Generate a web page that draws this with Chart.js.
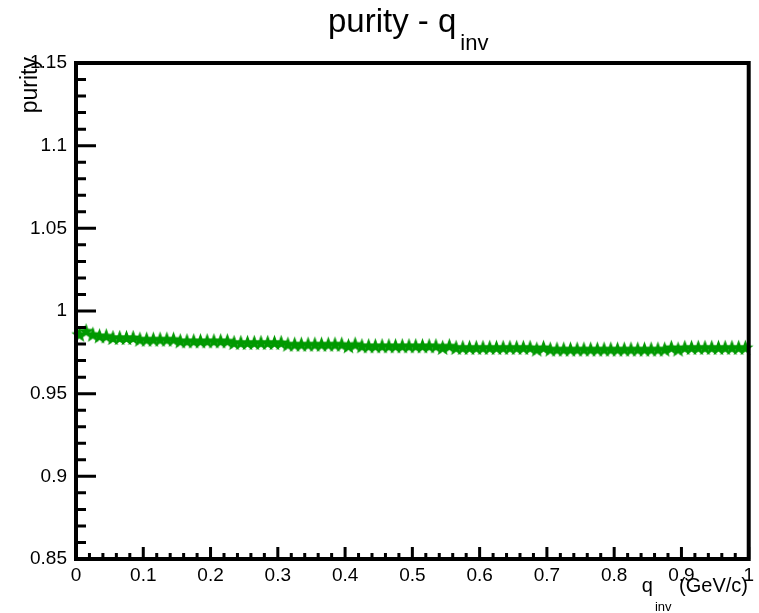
<!DOCTYPE html>
<html>
<head>
<meta charset="utf-8">
<script src="https://cdn.jsdelivr.net/npm/chart.js@4/dist/chart.umd.min.js"></script>
<style>
  html, body { margin: 0; padding: 0; background: #fff; }
</style>
</head>
<body>
<canvas id="chart" width="759" height="613"></canvas>
<script>
// bin centres of q_inv (GeV/c)
const qinv = [
  0.005, 0.015, 0.025, 0.035, 0.045, 0.055, 0.065, 0.075, 0.085, 0.095,
  0.105, 0.115, 0.125, 0.135, 0.145, 0.155, 0.165, 0.175, 0.185, 0.195,
  0.205, 0.215, 0.225, 0.235, 0.245, 0.255, 0.265, 0.275, 0.285, 0.295,
  0.305, 0.315, 0.325, 0.335, 0.345, 0.355, 0.365, 0.375, 0.385, 0.395,
  0.405, 0.415, 0.425, 0.435, 0.445, 0.455, 0.465, 0.475, 0.485, 0.495,
  0.505, 0.515, 0.525, 0.535, 0.545, 0.555, 0.565, 0.575, 0.585, 0.595,
  0.605, 0.615, 0.625, 0.635, 0.645, 0.655, 0.665, 0.675, 0.685, 0.695,
  0.705, 0.715, 0.725, 0.735, 0.745, 0.755, 0.765, 0.775, 0.785, 0.795,
  0.805, 0.815, 0.825, 0.835, 0.845, 0.855, 0.865, 0.875, 0.885, 0.895,
  0.905, 0.915, 0.925, 0.935, 0.945, 0.955, 0.965, 0.975, 0.985, 0.995
];

// purity per bin
const purity = [
  0.986, 0.988, 0.986, 0.985, 0.985, 0.984, 0.984, 0.984, 0.984, 0.983,
  0.983, 0.983, 0.983, 0.983, 0.983, 0.982, 0.982, 0.982, 0.982, 0.982,
  0.982, 0.982, 0.982, 0.981, 0.981, 0.981, 0.981, 0.981, 0.981, 0.981,
  0.981, 0.980, 0.980, 0.980, 0.980, 0.980, 0.980, 0.980, 0.980, 0.980,
  0.979, 0.980, 0.979, 0.979, 0.979, 0.979, 0.979, 0.979, 0.979, 0.979,
  0.979, 0.979, 0.979, 0.979, 0.978, 0.979, 0.978, 0.978, 0.978, 0.978,
  0.978, 0.978, 0.978, 0.978, 0.978, 0.978, 0.978, 0.978, 0.977, 0.978,
  0.977, 0.977, 0.977, 0.977, 0.977, 0.977, 0.977, 0.977, 0.977, 0.977,
  0.977, 0.977, 0.977, 0.977, 0.977, 0.977, 0.977, 0.977, 0.978, 0.977,
  0.978, 0.978, 0.978, 0.978, 0.978, 0.978, 0.978, 0.978, 0.978, 0.978
];

const xMajor = [0, 0.1, 0.2, 0.3, 0.4, 0.5, 0.6, 0.7, 0.8, 0.9, 1];
const yMajor = [0.85, 0.9, 0.95, 1, 1.05, 1.1, 1.15];

const FONT = '"Liberation Sans", Arial, Helvetica, sans-serif';
const GREEN = '#009900';

// filled five-point star, like ROOT marker 29
function makeStar(rOut, rIn, color) {
  const size = Math.ceil(rOut * 2) + 2;
  const c = document.createElement('canvas');
  c.width = size;
  c.height = size;
  const g = c.getContext('2d');
  g.translate(size / 2, size / 2 + 0.8);
  g.beginPath();
  for (let i = 0; i < 10; i++) {
    const r = i % 2 === 0 ? rOut : rIn;
    const a = -Math.PI / 2 + i * Math.PI / 5;
    g.lineTo(r * Math.cos(a), r * Math.sin(a));
  }
  g.closePath();
  g.fillStyle = color;
  g.fill();
  return c;
}

// frame, inside ticks, title and axis titles
const rootStyle = {
  id: 'rootStyle',
  afterDraw(chart) {
    const ctx = chart.ctx;
    const a = chart.chartArea;
    const xs = chart.scales.x, ys = chart.scales.y;
    ctx.save();
    ctx.strokeStyle = '#000';

    // ticks
    ctx.lineWidth = 3;
    ctx.beginPath();
    for (let k = 0; k <= 30; k++) {
      const y = ys.getPixelForValue(0.85 + k * 0.01);
      const len = k % 5 === 0 ? 20 : 10;
      ctx.moveTo(a.left, y);
      ctx.lineTo(a.left + len, y);
    }
    for (let k = 0; k <= 50; k++) {
      const x = xs.getPixelForValue(k * 0.02);
      const len = k % 5 === 0 ? 12 : 6;
      ctx.moveTo(x, a.bottom);
      ctx.lineTo(x, a.bottom - len);
    }
    ctx.stroke();

    // frame
    ctx.lineWidth = 4;
    ctx.strokeRect(a.left, a.top, a.right - a.left, a.bottom - a.top);

    ctx.fillStyle = '#000';
    // title
    ctx.textBaseline = 'alphabetic';
    ctx.textAlign = 'left';
    ctx.font = '33px ' + FONT;
    ctx.fillText('purity - q', 328, 32);
    const tw = ctx.measureText('purity - q').width;
    ctx.font = '22px ' + FONT;
    ctx.fillText('inv', 328 + tw + 4, 50);

    // x title
    ctx.font = '20px ' + FONT;
    ctx.textAlign = 'right';
    ctx.fillText('(GeV/c)', 748, 592);
    const gw = ctx.measureText(' (GeV/c)').width;
    ctx.font = '13px ' + FONT;
    const iw = ctx.measureText('inv').width;
    ctx.fillText('inv', 748 - gw - 2, 611);
    ctx.font = '20px ' + FONT;
    ctx.fillText('q', 748 - gw - iw - 4, 592);

    // y title
    ctx.translate(37, 57);
    ctx.rotate(-Math.PI / 2);
    ctx.font = '23px ' + FONT;
    ctx.textAlign = 'right';
    ctx.fillText('purity', 0, 0);
    ctx.restore();
  }
};

const data = qinv.map((q, i) => ({ x: q, y: purity[i] }));

new Chart(document.getElementById('chart'), {
  type: 'scatter',
  data: {
    datasets: [{
      label: 'purity',
      data: data,
      pointStyle: makeStar(8.5, 3.5, GREEN),
      pointRadius: 8,
      pointHoverRadius: 8,
      backgroundColor: GREEN,
      borderColor: GREEN,
      showLine: false,
      clip: false
    }]
  },
  options: {
    responsive: false,
    animation: false,
    devicePixelRatio: 1,
    layout: { padding: { left: 0, top: 63, right: 9, bottom: 0 } },
    plugins: {
      legend: { display: false },
      tooltip: { enabled: false },
      title: { display: false }
    },
    scales: {
      x: {
        type: 'linear',
        min: 0,
        max: 1,
        afterFit(scale) { scale.height = 54; },
        afterBuildTicks(scale) { scale.ticks = xMajor.map(v => ({ value: v })); },
        grid: { display: false, drawTicks: false },
        border: { display: false },
        ticks: {
          padding: 5,
          color: '#000',
          font: { family: FONT, size: 19 },
          maxRotation: 0,
          callback: v => String(+v.toFixed(2))
        }
      },
      y: {
        type: 'linear',
        min: 0.85,
        max: 1.15,
        afterFit(scale) { scale.width = 76; },
        afterBuildTicks(scale) { scale.ticks = yMajor.map(v => ({ value: v })); },
        grid: { display: false, drawTicks: false },
        border: { display: false },
        ticks: {
          padding: 9,
          color: '#000',
          font: { family: FONT, size: 19 },
          callback: v => String(+v.toFixed(2))
        }
      }
    }
  },
  plugins: [rootStyle]
});
</script>
</body>
</html>
